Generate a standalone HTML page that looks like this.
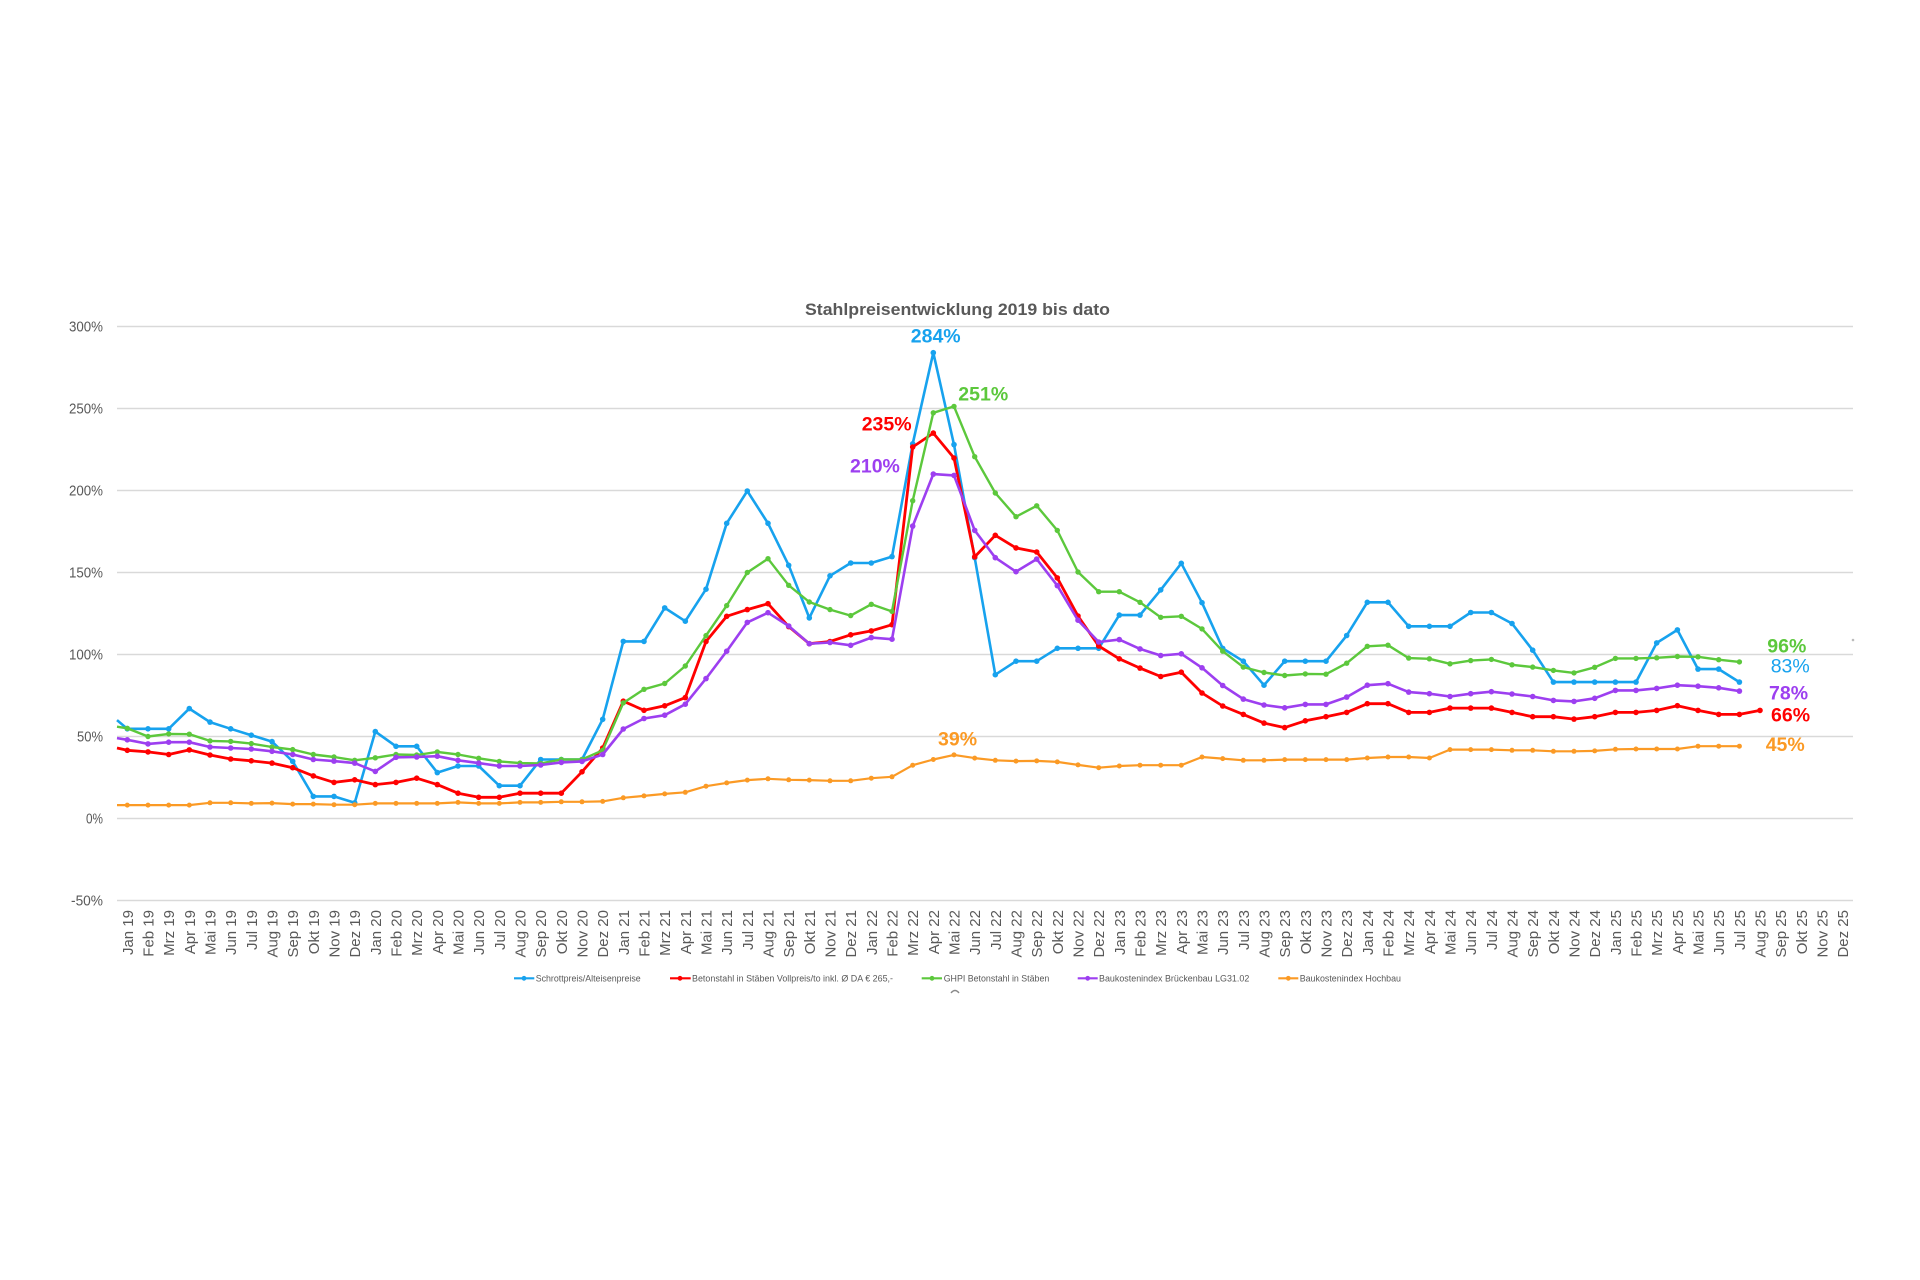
<!DOCTYPE html>
<html>
<head>
<meta charset="utf-8">
<style>
html,body{margin:0;padding:0;background:#fff;}
svg{display:block;}
text{font-family:"Liberation Sans",Arial,sans-serif;}
</style>
</head>
<body>
<svg id="c" width="1920" height="1280" viewBox="0 0 1920 1280" xmlns="http://www.w3.org/2000/svg">
<rect width="1920" height="1280" fill="#fff"/>
<g id="grid" stroke="#d9d9d9" stroke-width="1.4"></g>
<g id="ylab" fill="#595959" font-size="14.5" text-anchor="end">
<text x="103" y="331.5" textLength="34" lengthAdjust="spacingAndGlyphs">300%</text>
<text x="103" y="413.5" textLength="34" lengthAdjust="spacingAndGlyphs">250%</text>
<text x="103" y="495.5" textLength="34" lengthAdjust="spacingAndGlyphs">200%</text>
<text x="103" y="577.5" textLength="34" lengthAdjust="spacingAndGlyphs">150%</text>
<text x="103" y="659.5" textLength="34" lengthAdjust="spacingAndGlyphs">100%</text>
<text x="103" y="741.5" textLength="26" lengthAdjust="spacingAndGlyphs">50%</text>
<text x="103" y="823.5" textLength="17" lengthAdjust="spacingAndGlyphs">0%</text>
<text x="103" y="905.5" textLength="32" lengthAdjust="spacingAndGlyphs">-50%</text>
</g>
<text x="957.5" y="315" font-size="17" font-weight="bold" fill="#595959" text-anchor="middle" textLength="305" lengthAdjust="spacingAndGlyphs">Stahlpreisentwicklung 2019 bis dato</text>
<g id="xlab" fill="#595959" font-size="15" text-anchor="end">
<text transform="translate(132.8,910) rotate(-90)">Jan 19</text>
<text transform="translate(153.5,910) rotate(-90)">Feb 19</text>
<text transform="translate(174.1,910) rotate(-90)">Mrz 19</text>
<text transform="translate(194.8,910) rotate(-90)">Apr 19</text>
<text transform="translate(215.5,910) rotate(-90)">Mai 19</text>
<text transform="translate(236.1,910) rotate(-90)">Jun 19</text>
<text transform="translate(256.8,910) rotate(-90)">Jul 19</text>
<text transform="translate(277.5,910) rotate(-90)">Aug 19</text>
<text transform="translate(298.1,910) rotate(-90)">Sep 19</text>
<text transform="translate(318.8,910) rotate(-90)">Okt 19</text>
<text transform="translate(339.5,910) rotate(-90)">Nov 19</text>
<text transform="translate(360.1,910) rotate(-90)">Dez 19</text>
<text transform="translate(380.8,910) rotate(-90)">Jan 20</text>
<text transform="translate(401.5,910) rotate(-90)">Feb 20</text>
<text transform="translate(422.1,910) rotate(-90)">Mrz 20</text>
<text transform="translate(442.8,910) rotate(-90)">Apr 20</text>
<text transform="translate(463.5,910) rotate(-90)">Mai 20</text>
<text transform="translate(484.1,910) rotate(-90)">Jun 20</text>
<text transform="translate(504.8,910) rotate(-90)">Jul 20</text>
<text transform="translate(525.5,910) rotate(-90)">Aug 20</text>
<text transform="translate(546.1,910) rotate(-90)">Sep 20</text>
<text transform="translate(566.8,910) rotate(-90)">Okt 20</text>
<text transform="translate(587.5,910) rotate(-90)">Nov 20</text>
<text transform="translate(608.1,910) rotate(-90)">Dez 20</text>
<text transform="translate(628.8,910) rotate(-90)">Jan 21</text>
<text transform="translate(649.5,910) rotate(-90)">Feb 21</text>
<text transform="translate(670.1,910) rotate(-90)">Mrz 21</text>
<text transform="translate(690.8,910) rotate(-90)">Apr 21</text>
<text transform="translate(711.5,910) rotate(-90)">Mai 21</text>
<text transform="translate(732.1,910) rotate(-90)">Jun 21</text>
<text transform="translate(752.8,910) rotate(-90)">Jul 21</text>
<text transform="translate(773.5,910) rotate(-90)">Aug 21</text>
<text transform="translate(794.1,910) rotate(-90)">Sep 21</text>
<text transform="translate(814.8,910) rotate(-90)">Okt 21</text>
<text transform="translate(835.5,910) rotate(-90)">Nov 21</text>
<text transform="translate(856.1,910) rotate(-90)">Dez 21</text>
<text transform="translate(876.8,910) rotate(-90)">Jan 22</text>
<text transform="translate(897.5,910) rotate(-90)">Feb 22</text>
<text transform="translate(918.1,910) rotate(-90)">Mrz 22</text>
<text transform="translate(938.8,910) rotate(-90)">Apr 22</text>
<text transform="translate(959.5,910) rotate(-90)">Mai 22</text>
<text transform="translate(980.1,910) rotate(-90)">Jun 22</text>
<text transform="translate(1000.8,910) rotate(-90)">Jul 22</text>
<text transform="translate(1021.5,910) rotate(-90)">Aug 22</text>
<text transform="translate(1042.1,910) rotate(-90)">Sep 22</text>
<text transform="translate(1062.8,910) rotate(-90)">Okt 22</text>
<text transform="translate(1083.5,910) rotate(-90)">Nov 22</text>
<text transform="translate(1104.1,910) rotate(-90)">Dez 22</text>
<text transform="translate(1124.8,910) rotate(-90)">Jan 23</text>
<text transform="translate(1145.5,910) rotate(-90)">Feb 23</text>
<text transform="translate(1166.1,910) rotate(-90)">Mrz 23</text>
<text transform="translate(1186.8,910) rotate(-90)">Apr 23</text>
<text transform="translate(1207.5,910) rotate(-90)">Mai 23</text>
<text transform="translate(1228.1,910) rotate(-90)">Jun 23</text>
<text transform="translate(1248.8,910) rotate(-90)">Jul 23</text>
<text transform="translate(1269.5,910) rotate(-90)">Aug 23</text>
<text transform="translate(1290.1,910) rotate(-90)">Sep 23</text>
<text transform="translate(1310.8,910) rotate(-90)">Okt 23</text>
<text transform="translate(1331.5,910) rotate(-90)">Nov 23</text>
<text transform="translate(1352.1,910) rotate(-90)">Dez 23</text>
<text transform="translate(1372.8,910) rotate(-90)">Jan 24</text>
<text transform="translate(1393.5,910) rotate(-90)">Feb 24</text>
<text transform="translate(1414.1,910) rotate(-90)">Mrz 24</text>
<text transform="translate(1434.8,910) rotate(-90)">Apr 24</text>
<text transform="translate(1455.5,910) rotate(-90)">Mai 24</text>
<text transform="translate(1476.1,910) rotate(-90)">Jun 24</text>
<text transform="translate(1496.8,910) rotate(-90)">Jul 24</text>
<text transform="translate(1517.5,910) rotate(-90)">Aug 24</text>
<text transform="translate(1538.1,910) rotate(-90)">Sep 24</text>
<text transform="translate(1558.8,910) rotate(-90)">Okt 24</text>
<text transform="translate(1579.5,910) rotate(-90)">Nov 24</text>
<text transform="translate(1600.1,910) rotate(-90)">Dez 24</text>
<text transform="translate(1620.8,910) rotate(-90)">Jan 25</text>
<text transform="translate(1641.5,910) rotate(-90)">Feb 25</text>
<text transform="translate(1662.1,910) rotate(-90)">Mrz 25</text>
<text transform="translate(1682.8,910) rotate(-90)">Apr 25</text>
<text transform="translate(1703.5,910) rotate(-90)">Mai 25</text>
<text transform="translate(1724.1,910) rotate(-90)">Jun 25</text>
<text transform="translate(1744.8,910) rotate(-90)">Jul 25</text>
<text transform="translate(1765.5,910) rotate(-90)">Aug 25</text>
<text transform="translate(1786.1,910) rotate(-90)">Sep 25</text>
<text transform="translate(1806.8,910) rotate(-90)">Okt 25</text>
<text transform="translate(1827.5,910) rotate(-90)">Nov 25</text>
<text transform="translate(1848.1,910) rotate(-90)">Dez 25</text>
</g>
<g id="series"></g>
<!-- peak labels -->
<g font-size="19.5" font-weight="bold">
<text x="935.7" y="342.7" fill="#17a2ee" text-anchor="middle">284%</text>
<text x="958.3" y="400.7" fill="#5cc83c">251%</text>
<text x="861.7" y="430.7" fill="#ff0000">235%</text>
<text x="850" y="472.4" fill="#9d3ff0">210%</text>
<text x="938" y="745.7" fill="#fb9a25">39%</text>
<text x="1767.3" y="652.7" fill="#5cc83c">96%</text>
<text x="1770.7" y="672.7" fill="#17a2ee" font-weight="normal">83%</text>
<text x="1769" y="699.4" fill="#9d3ff0">78%</text>
<text x="1771" y="721.4" fill="#ff0000">66%</text>
<text x="1765.7" y="751" fill="#fb9a25">45%</text>
</g>
<!-- legend -->
<g font-size="9" fill="#595959">
<line x1="514" y1="978.3" x2="534.3" y2="978.3" stroke="#17a2ee" stroke-width="2.2"/><circle cx="524" cy="978.3" r="2.4" fill="#17a2ee"/>
<text x="535.7" y="981.5" textLength="105" lengthAdjust="spacingAndGlyphs">Schrottpreis/Alteisenpreise</text>
<line x1="670" y1="978.3" x2="690.7" y2="978.3" stroke="#ff0000" stroke-width="2.2"/><circle cx="680" cy="978.3" r="2.4" fill="#ff0000"/>
<text x="692" y="981.5" textLength="201" lengthAdjust="spacingAndGlyphs">Betonstahl in Stäben Vollpreis/to inkl. Ø DA € 265,-</text>
<line x1="921.7" y1="978.3" x2="942" y2="978.3" stroke="#5cc83c" stroke-width="2.2"/><circle cx="932" cy="978.3" r="2.4" fill="#5cc83c"/>
<text x="943.7" y="981.5" textLength="105.6" lengthAdjust="spacingAndGlyphs">GHPI Betonstahl in Stäben</text>
<line x1="1077.7" y1="978.3" x2="1097.7" y2="978.3" stroke="#9d3ff0" stroke-width="2.2"/><circle cx="1087.7" cy="978.3" r="2.4" fill="#9d3ff0"/>
<text x="1099" y="981.5" textLength="150.3" lengthAdjust="spacingAndGlyphs">Baukostenindex Brückenbau LG31.02</text>
<line x1="1278.3" y1="978.3" x2="1298.3" y2="978.3" stroke="#fb9a25" stroke-width="2.2"/><circle cx="1288.3" cy="978.3" r="2.4" fill="#fb9a25"/>
<text x="1299.7" y="981.5" textLength="101.3" lengthAdjust="spacingAndGlyphs">Baukostenindex Hochbau</text>
</g>
<path d="M951 993 q4 -5 8 0" stroke="#888" stroke-width="1.4" fill="none"/>
<circle cx="1853" cy="640" r="1.3" fill="#bbb"/>
</svg>
<script>
(function(){
var NS="http://www.w3.org/2000/svg";
function Y(v){return 818.5-1.64*v;}
function X(i){return 127.33+20.667*i;}
var grid=document.getElementById('grid');
for(var v=300; v>=-50; v-=50){
  var l=document.createElementNS(NS,'line');
  l.setAttribute('x1',117);l.setAttribute('x2',1853);
  l.setAttribute('y1',Y(v));l.setAttribute('y2',Y(v));
  grid.appendChild(l);
}
var S=[
 {c:"#17a2ee",w:2.6,r:2.8,e:60,d:[54.7,54.7,54.7,67,58.8,54.7,50.8,46.9,34.8,13.5,13.5,9.6,53,44,44,28,32,32,20,20,36,36,36,60.5,108,108,128.4,120.3,139.8,180,199.7,180,154.4,122.3,148,155.8,155.8,159.7,228.5,284,228,159,87.7,95.9,95.9,103.8,103.8,103.8,124,124,139.4,155.6,131.6,103.7,95.9,81.3,95.9,95.9,95.9,111.6,131.8,131.8,117.2,117.2,117.2,125.6,125.6,118.9,102.6,83.2,83.2,83.2,83.2,83.2,107.1,115,91.1,91.1,83.2]},
 {c:"#ff0000",w:2.8,r:2.8,e:43,d:[41.6,40.6,39,41.8,38.7,36.3,35.2,33.8,31,26,22,23.6,20.7,22,24.6,20.7,15.4,12.9,12.9,15.4,15.4,15.4,28.5,43,71.5,66,68.7,73.7,107.9,123.3,127.4,131,117,106.6,107.9,112,114.4,118.2,226.5,235,219.8,159.5,172.7,165,162.5,146.7,123.5,105.2,97.4,91.7,86.6,89.2,76.5,68.6,63.5,58.2,55.4,59.6,62.1,64.7,70,70,64.7,64.7,67.3,67.3,67.3,64.7,62.1,62.1,60.6,62.1,64.7,64.7,65.9,68.8,65.9,63.5,63.5,65.9]},
 {c:"#5cc83c",w:2.4,r:2.7,e:56,d:[55,50,51.6,51.4,47.3,47,45.7,43.6,42,39,37.5,35.5,37,39,38.7,40.6,39,36.7,34.8,33.8,33.6,36,36,41.6,70.5,78.8,82.3,93,111.5,129.8,150,158.4,142.2,132,127.4,123.7,130.6,126.3,193.8,247.4,251.3,220.6,198.5,184,190.7,175.7,150.3,138.3,138.3,131.8,122.7,123.3,115.6,102,92.3,89,87.2,88.2,88,94.7,105,105.7,97.8,97.4,94.3,96.3,97,93.7,92.3,90.3,88.8,92.2,97.6,97.6,98,98.8,98.6,96.8,95.5]},
 {c:"#9d3ff0",w:2.6,r:2.8,e:49,d:[48,45.5,46.5,46.5,43.6,43,42.4,41,39,36,35,33.8,28.7,37.3,37.5,38,35.5,33.8,32,32,32.6,34.2,34.8,39,54.6,61,63,69.7,85.3,102,119.6,125.5,117.4,106.6,107.3,105.6,110.3,109.3,178.3,210,209.2,175.7,159,150.5,158.2,142,120.9,107.6,109.1,103.4,99.4,100.4,91.9,81.1,72.8,69.2,67.5,69.6,69.6,74,81.3,82.2,77.1,76.1,74.4,76.1,77.3,75.9,74.4,72,71.4,73.3,78.1,78.1,79.3,81.3,80.7,79.7,77.7]},
 {c:"#fb9a25",w:2.2,r:2.5,e:8.2,d:[8.2,8.2,8.2,8.2,9.6,9.6,9.2,9.4,8.8,8.8,8.4,8.4,9.2,9.2,9.2,9.2,9.8,9.2,9.2,9.8,9.8,10.2,10.2,10.4,12.6,13.8,15,16,19.7,21.7,23.4,24.2,23.6,23.4,23,23,24.6,25.4,32.5,36,38.8,36.8,35.5,35,35.1,34.5,32.7,31,32,32.5,32.5,32.5,37.5,36.5,35.5,35.5,35.9,35.9,35.9,35.9,36.9,37.5,37.5,36.9,42,42,42,41.6,41.6,41,41,41.2,42.2,42.4,42.4,42.4,44.1,44.1,44.1]}
];
var g=document.getElementById('series');
S.forEach(function(s){
  var pts=[[117,Y(s.e)]];
  s.d.forEach(function(v,i){pts.push([X(i),Y(v)]);});
  var pl=document.createElementNS(NS,'polyline');
  pl.setAttribute('points',pts.map(function(p){return p[0].toFixed(1)+','+p[1].toFixed(1);}).join(' '));
  pl.setAttribute('fill','none');pl.setAttribute('stroke',s.c);
  pl.setAttribute('stroke-width',s.w);pl.setAttribute('stroke-linejoin','round');
  g.appendChild(pl);
  s.d.forEach(function(v,i){
    var c=document.createElementNS(NS,'circle');
    c.setAttribute('cx',X(i).toFixed(1));c.setAttribute('cy',Y(v).toFixed(1));
    c.setAttribute('r',s.r);c.setAttribute('fill',s.c);
    g.appendChild(c);
  });
});
})();
</script>
</body>
</html>
